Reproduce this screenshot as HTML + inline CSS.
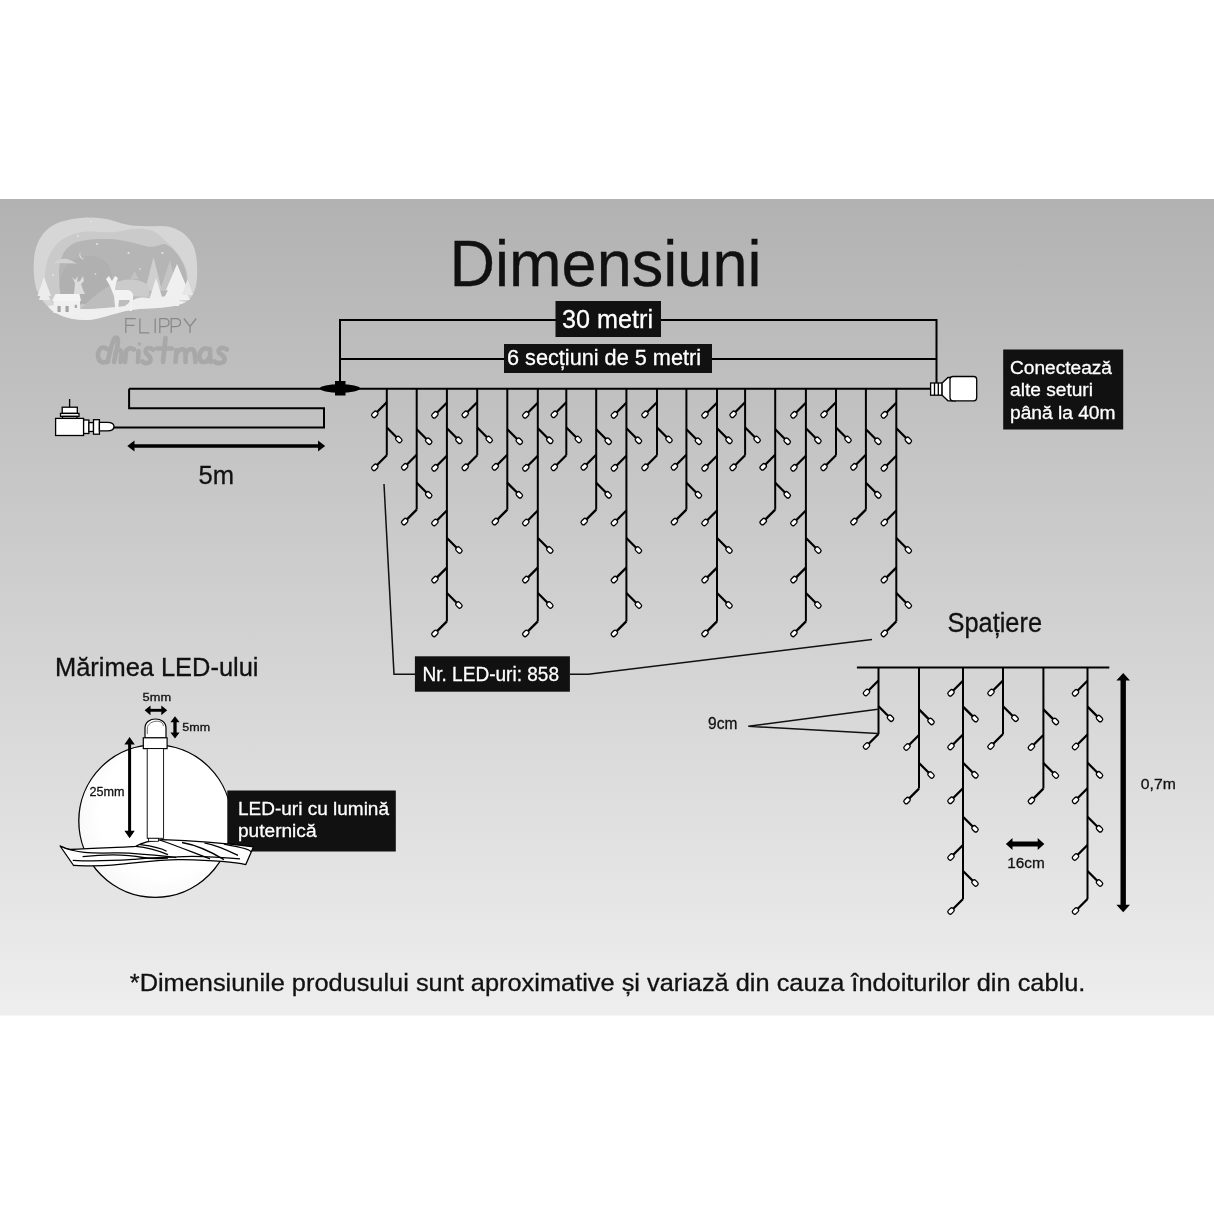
<!DOCTYPE html><html><head><meta charset="utf-8"><style>
html,body{margin:0;padding:0;background:#fff;width:1214px;height:1214px;overflow:hidden}
svg{display:block;font-family:"Liberation Sans", sans-serif;will-change:transform}
.st{stroke:#000;stroke-width:2;fill:none}
.br{stroke:#000;stroke-width:2.3;fill:none}
.led{fill:#fff;stroke:#000;stroke-width:1.3}
.ln{stroke:#000;stroke-width:2;fill:none}
.thin{stroke:#111;stroke-width:1.5;fill:none}
</style></head><body>
<svg width="1214" height="1214" viewBox="0 0 1214 1214">
<defs><linearGradient id="bg" x1="0" y1="0" x2="0" y2="1"><stop offset="0" stop-color="#b2b2b2"/><stop offset="1" stop-color="#eeeeee"/></linearGradient><radialGradient id="circ" cx="0.55" cy="0.45" r="0.6"><stop offset="0.7" stop-color="#ffffff"/><stop offset="1" stop-color="#f6f6f6"/></radialGradient></defs>
<rect x="0" y="0" width="1214" height="1214" fill="#fff"/>
<rect x="0" y="199" width="1214" height="816.5" fill="url(#bg)"/>
<g id="logo">
<path d="M33.7,268 C33,245 42,232 52,226 C62,220 78,217.5 92,217.6 C105,217.8 114,221 122,223.5 C132,226.5 145,226.5 161,226 C175,226 186,233 192,243 C197,252 197.5,265 197,277 C196.5,290 192,299 184,303 C176,307 160,308 140,309 C125,310 115,314 100,318 C90,321 75,321 62,316 C50,311 40,300 36,288 C34.5,282 33.8,275 33.7,268 Z" fill="#d6d6d6"/>
<path d="M45,277 C45,262 50,250 60,241 C70,234 80,231.5 90,231.5 C100,231.5 112,233.5 122,231 C132,228.5 140,228 150,230 C158,232 162,238 168,243 C176,250 182,258 186,268 C189,278 189,290 184,297 L60,312 C50,302 45,290 45,277 Z" fill="#cacaca"/>
<path d="M59,272 C59,258 65,246 77,242 C88,238.5 100,239 110,239 C122,239.5 135,243 147,246.5 C155,248 160,244 165,244 C173,247 180,256 184,266 C188,276 188,288 184,296 L62,306 C60,295 59,283 59,272 Z" fill="#b5b5b5"/>
<path d="M60,290 C58,270 70,256 90,256 C105,256 112,266 112,280 C112,295 100,304 85,304 C72,304 62,300 60,290 Z" fill="#b0b0b0"/>
<path d="M54,263 C58,258 66,258 70,260 L77,263.5 Z" fill="#d2d2d2"/>
<path d="M80.5,252 C78,255 80,260 85,259 C81,259 79.5,255.5 80.5,252 Z" fill="#e6e6e6"/>
<g fill="#e8e8e8"><circle cx="78" cy="236" r="0.9"/><circle cx="97" cy="244" r="0.9"/><circle cx="128.5" cy="253" r="1"/><circle cx="162.5" cy="253" r="1"/><circle cx="53" cy="275" r="0.9"/><circle cx="95.5" cy="274" r="0.8"/><circle cx="140" cy="269" r="0.8"/><circle cx="91" cy="221.5" r="0.8"/></g>
<path d="M145,291 L153.5,257 L162,291 Z" fill="#cfcfcf"/>
<path d="M160,291 L170,260 L177,291 Z" fill="#c4c4c4"/>
<path d="M130.5,279 L134.5,271 L138.5,279 Z" fill="#c2c2c2"/>
<path d="M80,309 C90,300 100,290 110,286 L130,282 C140,281 148,284 150,292 L150,305 L80,312 Z" fill="#bdbdbd"/>
<path d="M114,283 C125,278 140,278 149,286 L149,297 L116,295 Z" fill="#cbcbcb"/>
<path d="M166,290 L177,264 L188,290 Z M163,300 L177,272 L190,300 Z M175,300 h4 v6 h-4 Z" fill="#f0f0f0"/>
<path d="M148,303 L156,278 L164,303 Z" fill="#eeeeee"/>
<path d="M182,295 L187.5,279 L193,295 Z" fill="#e6e6e6"/>
<path d="M37.5,296 L44,277 L51,296 Z M39,300 L44,285 L50,300 Z" fill="#ececec"/>
<path d="M48,306 C60,304 75,310 90,309 C105,308 115,307 125,306 C135,296 145,296 155,300 C160,296 170,294 178,300 C182,302 186,302 186,302 C176,307 160,308 140,309 C125,310 115,314 100,318 C90,321 75,321 62,316 C55,313 50,310 48,306 Z" fill="#efefef"/>
<path d="M52,301 L55.5,294 L79.5,294 L81,301 Z" fill="#f4f4f4"/>
<rect x="53.5" y="301" width="26.5" height="12" fill="#f0f0f0"/>
<rect x="57.5" y="306" width="3.2" height="6" fill="#a4a4a4"/><rect x="65.5" y="306" width="3.2" height="6" fill="#a4a4a4"/>
<path d="M75,308 C73,304 78,303 77,308 Z" fill="#aaaaaa"/>
<path d="M74,294 L75,283 L72,277 L75,280 L78,276 L77,282 L80,281 L83,276 L84,281 L81,284 L83,290 L85,294 Z" fill="#dcdcdc"/>
<path d="M106,279 L109,276 L112,281 L115,276 L118,278 L116,283 L115,290 L128,290 C132,291 134,294 133,298 L132,311 L129.5,311 L129.5,300 L119,300 L118,311 L115.5,311 L114,296 L110,286 Z" fill="#f2f2f2"/>
</g>
<g stroke="#888888" stroke-width="1.25" fill="none">
<path d="M125.8,332.9 V318.5 H135.7 M125.8,325.3 H134.5"/>
<path d="M139.9,318.5 V332.9 H149.3"/>
<path d="M155.2,318.5 V332.9"/>
<path d="M159.8,332.9 V318.5 H164.5 C170.5,318.5 170.5,326.5 164.5,326.5 H159.8"/>
<path d="M171.2,332.9 V318.5 H176 C182,318.5 182,326.5 176,326.5 H171.2"/>
<path d="M183.9,318.5 L190,326.5 L196.2,318.5 M190,326.5 V332.9"/>
</g>
<g stroke="#a8a8a8" stroke-width="4.6" fill="none" stroke-linecap="round" stroke-linejoin="round">
<path d="M107,349 C101,344 96.5,352 98.5,358 C100,363 104,363.5 108,361"/>
<path d="M107.5,362 C110,352 112,341 115,338 C117.5,336 119,340 117,348 L114,362 M115,354 C117,348.5 121.5,348.5 121.5,353.5 L120.5,362"/>
<path d="M125,362 L126,351 C128,348 131,347.5 134,349.5"/>
<path d="M138.5,351 L138,362"/>
<circle cx="139.5" cy="344" r="1.8" fill="#a9a9a9" stroke="none"/>
<path d="M153,349.5 C148,346 143,350 147,354 C151,357 152.5,362 147,363 C145,363.5 143.5,362.5 142.5,361.5"/>
<path d="M165.5,338 L163,362 M157,348.5 H172"/>
<path d="M175.5,362 L176.5,350 M176.5,354 C178.5,348.5 184.5,347.5 185.5,352.5 L185.5,362 M185.5,354 C187.5,348.5 193.5,347.5 194.5,352.5 L195.5,362"/>
<path d="M210,350.5 C204,345 198.5,352 199.5,358 C200.5,363.5 207.5,363.5 209.5,357 M210,349 L210.5,362"/>
<path d="M227,349.5 C221,345.5 215.5,350 220.5,354 C225.5,357 227,362 220,363 C217,363.5 215.5,362.5 214.5,361.5"/>
</g>
<text x="449.5" y="285.7" font-size="65.3" fill="#111" stroke="#111" stroke-width="0.3" textLength="312" lengthAdjust="spacingAndGlyphs" >Dimensiuni</text>
<path class="ln" d="M340,389 V320 H936.5 V383"/>
<line class="ln" x1="340" y1="359" x2="936.5" y2="359"/>
<rect x="555.5" y="301" width="105.5" height="36" fill="#111"/>
<text x="562" y="328.2" font-size="26.3" fill="#fff" stroke="#fff" stroke-width="0.3" textLength="91" lengthAdjust="spacingAndGlyphs" >30 metri</text>
<rect x="504" y="344" width="208" height="29" fill="#111"/>
<text x="507" y="365.2" font-size="22" fill="#fff" stroke="#fff" stroke-width="0.3" textLength="194" lengthAdjust="spacingAndGlyphs" >6 secțiuni de 5 metri</text>
<line class="st" x1="129.1" y1="388.8" x2="931" y2="388.8"/>
<path class="st" d="M129.1,388.8 V408.3 H324 V427.6 H113"/>
<ellipse cx="339.9" cy="388.5" rx="20.2" ry="4.2" fill="#000"/>
<rect x="335" y="381" width="10.5" height="14.5" fill="#000"/>
<g stroke="#000" stroke-width="1.3" fill="#fff">
<line x1="69.6" y1="399" x2="69.6" y2="407.2"/>
<rect x="62.2" y="407.2" width="15.1" height="6.2"/>
<rect x="60.5" y="413.4" width="18.5" height="3"/>
<rect x="62.5" y="416.4" width="14.5" height="2"/>
<rect x="55.6" y="418.4" width="28" height="17.1"/>
<rect x="83.6" y="420" width="5.3" height="13.5"/>
<rect x="88.9" y="422.6" width="4.6" height="8.9"/>
<rect x="93.5" y="419.7" width="5.9" height="14.5"/>
<path d="M99.4,422.3 H107.5 C112,422.3 114,424.5 114,426.6 C114,428.7 112,430.9 107.5,430.9 H99.4 Z"/>
</g>
<g stroke="#000" stroke-width="1.3" fill="#fff">
<rect x="930.6" y="383" width="11.5" height="12.2"/>
<path d="M934.5,383 V395.2 M938.3,383 V395.2" fill="none"/>
<path d="M942.1,383 L948,377.5 H955.4 V400.8 H948 L942.1,395.2 Z"/>
<rect x="950" y="376.5" width="26.7" height="24.3" rx="3"/>
</g>
<line x1="386.80" y1="388.70" x2="386.80" y2="455.30" class="st"/>
<line x1="386.80" y1="402.30" x2="376.80" y2="412.30" class="br"/>
<rect x="-3.3" y="-2.3" width="6.6" height="4.6" rx="1.9" class="led" transform="translate(374.80,414.30) rotate(135)"/>
<line x1="386.80" y1="427.50" x2="396.80" y2="437.50" class="br"/>
<rect x="-3.3" y="-2.3" width="6.6" height="4.6" rx="1.9" class="led" transform="translate(398.80,439.50) rotate(45)"/>
<line x1="386.80" y1="455.30" x2="376.80" y2="465.30" class="br"/>
<rect x="-3.3" y="-2.3" width="6.6" height="4.6" rx="1.9" class="led" transform="translate(374.80,467.30) rotate(135)"/>
<line x1="416.70" y1="388.70" x2="416.70" y2="509.60" class="st"/>
<line x1="416.70" y1="429.20" x2="426.70" y2="439.20" class="br"/>
<rect x="-3.3" y="-2.3" width="6.6" height="4.6" rx="1.9" class="led" transform="translate(428.70,441.20) rotate(45)"/>
<line x1="416.70" y1="454.80" x2="406.70" y2="464.80" class="br"/>
<rect x="-3.3" y="-2.3" width="6.6" height="4.6" rx="1.9" class="led" transform="translate(404.70,466.80) rotate(135)"/>
<line x1="416.70" y1="482.80" x2="426.70" y2="492.80" class="br"/>
<rect x="-3.3" y="-2.3" width="6.6" height="4.6" rx="1.9" class="led" transform="translate(428.70,494.80) rotate(45)"/>
<line x1="416.70" y1="509.60" x2="406.70" y2="519.60" class="br"/>
<rect x="-3.3" y="-2.3" width="6.6" height="4.6" rx="1.9" class="led" transform="translate(404.70,521.60) rotate(135)"/>
<line x1="446.90" y1="388.70" x2="446.90" y2="621.40" class="st"/>
<line x1="446.90" y1="402.80" x2="436.90" y2="412.80" class="br"/>
<rect x="-3.3" y="-2.3" width="6.6" height="4.6" rx="1.9" class="led" transform="translate(434.90,414.80) rotate(135)"/>
<line x1="446.90" y1="428.30" x2="456.90" y2="438.30" class="br"/>
<rect x="-3.3" y="-2.3" width="6.6" height="4.6" rx="1.9" class="led" transform="translate(458.90,440.30) rotate(45)"/>
<line x1="446.90" y1="455.80" x2="436.90" y2="465.80" class="br"/>
<rect x="-3.3" y="-2.3" width="6.6" height="4.6" rx="1.9" class="led" transform="translate(434.90,467.80) rotate(135)"/>
<line x1="446.90" y1="510.50" x2="436.90" y2="520.50" class="br"/>
<rect x="-3.3" y="-2.3" width="6.6" height="4.6" rx="1.9" class="led" transform="translate(434.90,522.50) rotate(135)"/>
<line x1="446.90" y1="538.00" x2="456.90" y2="548.00" class="br"/>
<rect x="-3.3" y="-2.3" width="6.6" height="4.6" rx="1.9" class="led" transform="translate(458.90,550.00) rotate(45)"/>
<line x1="446.90" y1="567.60" x2="436.90" y2="577.60" class="br"/>
<rect x="-3.3" y="-2.3" width="6.6" height="4.6" rx="1.9" class="led" transform="translate(434.90,579.60) rotate(135)"/>
<line x1="446.90" y1="593.00" x2="456.90" y2="603.00" class="br"/>
<rect x="-3.3" y="-2.3" width="6.6" height="4.6" rx="1.9" class="led" transform="translate(458.90,605.00) rotate(45)"/>
<line x1="446.90" y1="621.40" x2="436.90" y2="631.40" class="br"/>
<rect x="-3.3" y="-2.3" width="6.6" height="4.6" rx="1.9" class="led" transform="translate(434.90,633.40) rotate(135)"/>
<line x1="477.20" y1="388.70" x2="477.20" y2="455.30" class="st"/>
<line x1="477.20" y1="402.30" x2="467.20" y2="412.30" class="br"/>
<rect x="-3.3" y="-2.3" width="6.6" height="4.6" rx="1.9" class="led" transform="translate(465.20,414.30) rotate(135)"/>
<line x1="477.20" y1="427.50" x2="487.20" y2="437.50" class="br"/>
<rect x="-3.3" y="-2.3" width="6.6" height="4.6" rx="1.9" class="led" transform="translate(489.20,439.50) rotate(45)"/>
<line x1="477.20" y1="455.30" x2="467.20" y2="465.30" class="br"/>
<rect x="-3.3" y="-2.3" width="6.6" height="4.6" rx="1.9" class="led" transform="translate(465.20,467.30) rotate(135)"/>
<line x1="507.30" y1="388.70" x2="507.30" y2="509.60" class="st"/>
<line x1="507.30" y1="429.20" x2="517.30" y2="439.20" class="br"/>
<rect x="-3.3" y="-2.3" width="6.6" height="4.6" rx="1.9" class="led" transform="translate(519.30,441.20) rotate(45)"/>
<line x1="507.30" y1="454.80" x2="497.30" y2="464.80" class="br"/>
<rect x="-3.3" y="-2.3" width="6.6" height="4.6" rx="1.9" class="led" transform="translate(495.30,466.80) rotate(135)"/>
<line x1="507.30" y1="482.80" x2="517.30" y2="492.80" class="br"/>
<rect x="-3.3" y="-2.3" width="6.6" height="4.6" rx="1.9" class="led" transform="translate(519.30,494.80) rotate(45)"/>
<line x1="507.30" y1="509.60" x2="497.30" y2="519.60" class="br"/>
<rect x="-3.3" y="-2.3" width="6.6" height="4.6" rx="1.9" class="led" transform="translate(495.30,521.60) rotate(135)"/>
<line x1="537.80" y1="388.70" x2="537.80" y2="621.40" class="st"/>
<line x1="537.80" y1="402.80" x2="527.80" y2="412.80" class="br"/>
<rect x="-3.3" y="-2.3" width="6.6" height="4.6" rx="1.9" class="led" transform="translate(525.80,414.80) rotate(135)"/>
<line x1="537.80" y1="428.30" x2="547.80" y2="438.30" class="br"/>
<rect x="-3.3" y="-2.3" width="6.6" height="4.6" rx="1.9" class="led" transform="translate(549.80,440.30) rotate(45)"/>
<line x1="537.80" y1="455.80" x2="527.80" y2="465.80" class="br"/>
<rect x="-3.3" y="-2.3" width="6.6" height="4.6" rx="1.9" class="led" transform="translate(525.80,467.80) rotate(135)"/>
<line x1="537.80" y1="510.50" x2="527.80" y2="520.50" class="br"/>
<rect x="-3.3" y="-2.3" width="6.6" height="4.6" rx="1.9" class="led" transform="translate(525.80,522.50) rotate(135)"/>
<line x1="537.80" y1="538.00" x2="547.80" y2="548.00" class="br"/>
<rect x="-3.3" y="-2.3" width="6.6" height="4.6" rx="1.9" class="led" transform="translate(549.80,550.00) rotate(45)"/>
<line x1="537.80" y1="567.60" x2="527.80" y2="577.60" class="br"/>
<rect x="-3.3" y="-2.3" width="6.6" height="4.6" rx="1.9" class="led" transform="translate(525.80,579.60) rotate(135)"/>
<line x1="537.80" y1="593.00" x2="547.80" y2="603.00" class="br"/>
<rect x="-3.3" y="-2.3" width="6.6" height="4.6" rx="1.9" class="led" transform="translate(549.80,605.00) rotate(45)"/>
<line x1="537.80" y1="621.40" x2="527.80" y2="631.40" class="br"/>
<rect x="-3.3" y="-2.3" width="6.6" height="4.6" rx="1.9" class="led" transform="translate(525.80,633.40) rotate(135)"/>
<line x1="566.30" y1="388.70" x2="566.30" y2="455.30" class="st"/>
<line x1="566.30" y1="402.30" x2="556.30" y2="412.30" class="br"/>
<rect x="-3.3" y="-2.3" width="6.6" height="4.6" rx="1.9" class="led" transform="translate(554.30,414.30) rotate(135)"/>
<line x1="566.30" y1="427.50" x2="576.30" y2="437.50" class="br"/>
<rect x="-3.3" y="-2.3" width="6.6" height="4.6" rx="1.9" class="led" transform="translate(578.30,439.50) rotate(45)"/>
<line x1="566.30" y1="455.30" x2="556.30" y2="465.30" class="br"/>
<rect x="-3.3" y="-2.3" width="6.6" height="4.6" rx="1.9" class="led" transform="translate(554.30,467.30) rotate(135)"/>
<line x1="596.20" y1="388.70" x2="596.20" y2="509.60" class="st"/>
<line x1="596.20" y1="429.20" x2="606.20" y2="439.20" class="br"/>
<rect x="-3.3" y="-2.3" width="6.6" height="4.6" rx="1.9" class="led" transform="translate(608.20,441.20) rotate(45)"/>
<line x1="596.20" y1="454.80" x2="586.20" y2="464.80" class="br"/>
<rect x="-3.3" y="-2.3" width="6.6" height="4.6" rx="1.9" class="led" transform="translate(584.20,466.80) rotate(135)"/>
<line x1="596.20" y1="482.80" x2="606.20" y2="492.80" class="br"/>
<rect x="-3.3" y="-2.3" width="6.6" height="4.6" rx="1.9" class="led" transform="translate(608.20,494.80) rotate(45)"/>
<line x1="596.20" y1="509.60" x2="586.20" y2="519.60" class="br"/>
<rect x="-3.3" y="-2.3" width="6.6" height="4.6" rx="1.9" class="led" transform="translate(584.20,521.60) rotate(135)"/>
<line x1="626.40" y1="388.70" x2="626.40" y2="621.40" class="st"/>
<line x1="626.40" y1="402.80" x2="616.40" y2="412.80" class="br"/>
<rect x="-3.3" y="-2.3" width="6.6" height="4.6" rx="1.9" class="led" transform="translate(614.40,414.80) rotate(135)"/>
<line x1="626.40" y1="428.30" x2="636.40" y2="438.30" class="br"/>
<rect x="-3.3" y="-2.3" width="6.6" height="4.6" rx="1.9" class="led" transform="translate(638.40,440.30) rotate(45)"/>
<line x1="626.40" y1="455.80" x2="616.40" y2="465.80" class="br"/>
<rect x="-3.3" y="-2.3" width="6.6" height="4.6" rx="1.9" class="led" transform="translate(614.40,467.80) rotate(135)"/>
<line x1="626.40" y1="510.50" x2="616.40" y2="520.50" class="br"/>
<rect x="-3.3" y="-2.3" width="6.6" height="4.6" rx="1.9" class="led" transform="translate(614.40,522.50) rotate(135)"/>
<line x1="626.40" y1="538.00" x2="636.40" y2="548.00" class="br"/>
<rect x="-3.3" y="-2.3" width="6.6" height="4.6" rx="1.9" class="led" transform="translate(638.40,550.00) rotate(45)"/>
<line x1="626.40" y1="567.60" x2="616.40" y2="577.60" class="br"/>
<rect x="-3.3" y="-2.3" width="6.6" height="4.6" rx="1.9" class="led" transform="translate(614.40,579.60) rotate(135)"/>
<line x1="626.40" y1="593.00" x2="636.40" y2="603.00" class="br"/>
<rect x="-3.3" y="-2.3" width="6.6" height="4.6" rx="1.9" class="led" transform="translate(638.40,605.00) rotate(45)"/>
<line x1="626.40" y1="621.40" x2="616.40" y2="631.40" class="br"/>
<rect x="-3.3" y="-2.3" width="6.6" height="4.6" rx="1.9" class="led" transform="translate(614.40,633.40) rotate(135)"/>
<line x1="657.00" y1="388.70" x2="657.00" y2="455.30" class="st"/>
<line x1="657.00" y1="402.30" x2="647.00" y2="412.30" class="br"/>
<rect x="-3.3" y="-2.3" width="6.6" height="4.6" rx="1.9" class="led" transform="translate(645.00,414.30) rotate(135)"/>
<line x1="657.00" y1="427.50" x2="667.00" y2="437.50" class="br"/>
<rect x="-3.3" y="-2.3" width="6.6" height="4.6" rx="1.9" class="led" transform="translate(669.00,439.50) rotate(45)"/>
<line x1="657.00" y1="455.30" x2="647.00" y2="465.30" class="br"/>
<rect x="-3.3" y="-2.3" width="6.6" height="4.6" rx="1.9" class="led" transform="translate(645.00,467.30) rotate(135)"/>
<line x1="686.40" y1="388.70" x2="686.40" y2="509.60" class="st"/>
<line x1="686.40" y1="429.20" x2="696.40" y2="439.20" class="br"/>
<rect x="-3.3" y="-2.3" width="6.6" height="4.6" rx="1.9" class="led" transform="translate(698.40,441.20) rotate(45)"/>
<line x1="686.40" y1="454.80" x2="676.40" y2="464.80" class="br"/>
<rect x="-3.3" y="-2.3" width="6.6" height="4.6" rx="1.9" class="led" transform="translate(674.40,466.80) rotate(135)"/>
<line x1="686.40" y1="482.80" x2="696.40" y2="492.80" class="br"/>
<rect x="-3.3" y="-2.3" width="6.6" height="4.6" rx="1.9" class="led" transform="translate(698.40,494.80) rotate(45)"/>
<line x1="686.40" y1="509.60" x2="676.40" y2="519.60" class="br"/>
<rect x="-3.3" y="-2.3" width="6.6" height="4.6" rx="1.9" class="led" transform="translate(674.40,521.60) rotate(135)"/>
<line x1="717.00" y1="388.70" x2="717.00" y2="621.40" class="st"/>
<line x1="717.00" y1="402.80" x2="707.00" y2="412.80" class="br"/>
<rect x="-3.3" y="-2.3" width="6.6" height="4.6" rx="1.9" class="led" transform="translate(705.00,414.80) rotate(135)"/>
<line x1="717.00" y1="428.30" x2="727.00" y2="438.30" class="br"/>
<rect x="-3.3" y="-2.3" width="6.6" height="4.6" rx="1.9" class="led" transform="translate(729.00,440.30) rotate(45)"/>
<line x1="717.00" y1="455.80" x2="707.00" y2="465.80" class="br"/>
<rect x="-3.3" y="-2.3" width="6.6" height="4.6" rx="1.9" class="led" transform="translate(705.00,467.80) rotate(135)"/>
<line x1="717.00" y1="510.50" x2="707.00" y2="520.50" class="br"/>
<rect x="-3.3" y="-2.3" width="6.6" height="4.6" rx="1.9" class="led" transform="translate(705.00,522.50) rotate(135)"/>
<line x1="717.00" y1="538.00" x2="727.00" y2="548.00" class="br"/>
<rect x="-3.3" y="-2.3" width="6.6" height="4.6" rx="1.9" class="led" transform="translate(729.00,550.00) rotate(45)"/>
<line x1="717.00" y1="567.60" x2="707.00" y2="577.60" class="br"/>
<rect x="-3.3" y="-2.3" width="6.6" height="4.6" rx="1.9" class="led" transform="translate(705.00,579.60) rotate(135)"/>
<line x1="717.00" y1="593.00" x2="727.00" y2="603.00" class="br"/>
<rect x="-3.3" y="-2.3" width="6.6" height="4.6" rx="1.9" class="led" transform="translate(729.00,605.00) rotate(45)"/>
<line x1="717.00" y1="621.40" x2="707.00" y2="631.40" class="br"/>
<rect x="-3.3" y="-2.3" width="6.6" height="4.6" rx="1.9" class="led" transform="translate(705.00,633.40) rotate(135)"/>
<line x1="745.10" y1="388.70" x2="745.10" y2="455.30" class="st"/>
<line x1="745.10" y1="402.30" x2="735.10" y2="412.30" class="br"/>
<rect x="-3.3" y="-2.3" width="6.6" height="4.6" rx="1.9" class="led" transform="translate(733.10,414.30) rotate(135)"/>
<line x1="745.10" y1="427.50" x2="755.10" y2="437.50" class="br"/>
<rect x="-3.3" y="-2.3" width="6.6" height="4.6" rx="1.9" class="led" transform="translate(757.10,439.50) rotate(45)"/>
<line x1="745.10" y1="455.30" x2="735.10" y2="465.30" class="br"/>
<rect x="-3.3" y="-2.3" width="6.6" height="4.6" rx="1.9" class="led" transform="translate(733.10,467.30) rotate(135)"/>
<line x1="775.20" y1="388.70" x2="775.20" y2="509.60" class="st"/>
<line x1="775.20" y1="429.20" x2="785.20" y2="439.20" class="br"/>
<rect x="-3.3" y="-2.3" width="6.6" height="4.6" rx="1.9" class="led" transform="translate(787.20,441.20) rotate(45)"/>
<line x1="775.20" y1="454.80" x2="765.20" y2="464.80" class="br"/>
<rect x="-3.3" y="-2.3" width="6.6" height="4.6" rx="1.9" class="led" transform="translate(763.20,466.80) rotate(135)"/>
<line x1="775.20" y1="482.80" x2="785.20" y2="492.80" class="br"/>
<rect x="-3.3" y="-2.3" width="6.6" height="4.6" rx="1.9" class="led" transform="translate(787.20,494.80) rotate(45)"/>
<line x1="775.20" y1="509.60" x2="765.20" y2="519.60" class="br"/>
<rect x="-3.3" y="-2.3" width="6.6" height="4.6" rx="1.9" class="led" transform="translate(763.20,521.60) rotate(135)"/>
<line x1="805.90" y1="388.70" x2="805.90" y2="621.40" class="st"/>
<line x1="805.90" y1="402.80" x2="795.90" y2="412.80" class="br"/>
<rect x="-3.3" y="-2.3" width="6.6" height="4.6" rx="1.9" class="led" transform="translate(793.90,414.80) rotate(135)"/>
<line x1="805.90" y1="428.30" x2="815.90" y2="438.30" class="br"/>
<rect x="-3.3" y="-2.3" width="6.6" height="4.6" rx="1.9" class="led" transform="translate(817.90,440.30) rotate(45)"/>
<line x1="805.90" y1="455.80" x2="795.90" y2="465.80" class="br"/>
<rect x="-3.3" y="-2.3" width="6.6" height="4.6" rx="1.9" class="led" transform="translate(793.90,467.80) rotate(135)"/>
<line x1="805.90" y1="510.50" x2="795.90" y2="520.50" class="br"/>
<rect x="-3.3" y="-2.3" width="6.6" height="4.6" rx="1.9" class="led" transform="translate(793.90,522.50) rotate(135)"/>
<line x1="805.90" y1="538.00" x2="815.90" y2="548.00" class="br"/>
<rect x="-3.3" y="-2.3" width="6.6" height="4.6" rx="1.9" class="led" transform="translate(817.90,550.00) rotate(45)"/>
<line x1="805.90" y1="567.60" x2="795.90" y2="577.60" class="br"/>
<rect x="-3.3" y="-2.3" width="6.6" height="4.6" rx="1.9" class="led" transform="translate(793.90,579.60) rotate(135)"/>
<line x1="805.90" y1="593.00" x2="815.90" y2="603.00" class="br"/>
<rect x="-3.3" y="-2.3" width="6.6" height="4.6" rx="1.9" class="led" transform="translate(817.90,605.00) rotate(45)"/>
<line x1="805.90" y1="621.40" x2="795.90" y2="631.40" class="br"/>
<rect x="-3.3" y="-2.3" width="6.6" height="4.6" rx="1.9" class="led" transform="translate(793.90,633.40) rotate(135)"/>
<line x1="836.00" y1="388.70" x2="836.00" y2="455.30" class="st"/>
<line x1="836.00" y1="402.30" x2="826.00" y2="412.30" class="br"/>
<rect x="-3.3" y="-2.3" width="6.6" height="4.6" rx="1.9" class="led" transform="translate(824.00,414.30) rotate(135)"/>
<line x1="836.00" y1="427.50" x2="846.00" y2="437.50" class="br"/>
<rect x="-3.3" y="-2.3" width="6.6" height="4.6" rx="1.9" class="led" transform="translate(848.00,439.50) rotate(45)"/>
<line x1="836.00" y1="455.30" x2="826.00" y2="465.30" class="br"/>
<rect x="-3.3" y="-2.3" width="6.6" height="4.6" rx="1.9" class="led" transform="translate(824.00,467.30) rotate(135)"/>
<line x1="865.90" y1="388.70" x2="865.90" y2="509.60" class="st"/>
<line x1="865.90" y1="429.20" x2="875.90" y2="439.20" class="br"/>
<rect x="-3.3" y="-2.3" width="6.6" height="4.6" rx="1.9" class="led" transform="translate(877.90,441.20) rotate(45)"/>
<line x1="865.90" y1="454.80" x2="855.90" y2="464.80" class="br"/>
<rect x="-3.3" y="-2.3" width="6.6" height="4.6" rx="1.9" class="led" transform="translate(853.90,466.80) rotate(135)"/>
<line x1="865.90" y1="482.80" x2="875.90" y2="492.80" class="br"/>
<rect x="-3.3" y="-2.3" width="6.6" height="4.6" rx="1.9" class="led" transform="translate(877.90,494.80) rotate(45)"/>
<line x1="865.90" y1="509.60" x2="855.90" y2="519.60" class="br"/>
<rect x="-3.3" y="-2.3" width="6.6" height="4.6" rx="1.9" class="led" transform="translate(853.90,521.60) rotate(135)"/>
<line x1="896.30" y1="388.70" x2="896.30" y2="621.40" class="st"/>
<line x1="896.30" y1="402.80" x2="886.30" y2="412.80" class="br"/>
<rect x="-3.3" y="-2.3" width="6.6" height="4.6" rx="1.9" class="led" transform="translate(884.30,414.80) rotate(135)"/>
<line x1="896.30" y1="428.30" x2="906.30" y2="438.30" class="br"/>
<rect x="-3.3" y="-2.3" width="6.6" height="4.6" rx="1.9" class="led" transform="translate(908.30,440.30) rotate(45)"/>
<line x1="896.30" y1="455.80" x2="886.30" y2="465.80" class="br"/>
<rect x="-3.3" y="-2.3" width="6.6" height="4.6" rx="1.9" class="led" transform="translate(884.30,467.80) rotate(135)"/>
<line x1="896.30" y1="510.50" x2="886.30" y2="520.50" class="br"/>
<rect x="-3.3" y="-2.3" width="6.6" height="4.6" rx="1.9" class="led" transform="translate(884.30,522.50) rotate(135)"/>
<line x1="896.30" y1="538.00" x2="906.30" y2="548.00" class="br"/>
<rect x="-3.3" y="-2.3" width="6.6" height="4.6" rx="1.9" class="led" transform="translate(908.30,550.00) rotate(45)"/>
<line x1="896.30" y1="567.60" x2="886.30" y2="577.60" class="br"/>
<rect x="-3.3" y="-2.3" width="6.6" height="4.6" rx="1.9" class="led" transform="translate(884.30,579.60) rotate(135)"/>
<line x1="896.30" y1="593.00" x2="906.30" y2="603.00" class="br"/>
<rect x="-3.3" y="-2.3" width="6.6" height="4.6" rx="1.9" class="led" transform="translate(908.30,605.00) rotate(45)"/>
<line x1="896.30" y1="621.40" x2="886.30" y2="631.40" class="br"/>
<rect x="-3.3" y="-2.3" width="6.6" height="4.6" rx="1.9" class="led" transform="translate(884.30,633.40) rotate(135)"/>
<rect x="1003.2" y="349.5" width="120" height="80" fill="#111"/>
<text x="1010" y="373.5" font-size="18.3" fill="#fff" stroke="#fff" stroke-width="0.3" textLength="102" lengthAdjust="spacingAndGlyphs" >Conectează</text>
<text x="1010" y="396.0" font-size="18.3" fill="#fff" stroke="#fff" stroke-width="0.3" textLength="83" lengthAdjust="spacingAndGlyphs" >alte seturi</text>
<text x="1010" y="418.8" font-size="18.3" fill="#fff" stroke="#fff" stroke-width="0.3" textLength="105.5" lengthAdjust="spacingAndGlyphs" >până la 40m</text>
<line x1="133" y1="446" x2="319.5" y2="446" stroke="#000" stroke-width="3.6"/>
<path d="M127.3,446 L134.5,440.5 V451.5 Z M325.2,446 L318,440.5 V451.5 Z" fill="#000"/>
<text x="198.5" y="484.2" font-size="24.9" fill="#111" stroke="#111" stroke-width="0.3" textLength="35.5" lengthAdjust="spacingAndGlyphs" >5m</text>
<path class="thin" d="M384,484 L394,674.3 H415"/>
<path class="thin" d="M570,674.3 H588.3 L872,639.4"/>
<rect x="414.9" y="656.3" width="155" height="35.4" fill="#111"/>
<text x="422.5" y="681.3" font-size="19.3" fill="#fff" stroke="#fff" stroke-width="0.3" textLength="136.5" lengthAdjust="spacingAndGlyphs" >Nr. LED-uri: 858</text>
<text x="55" y="676.2" font-size="25" fill="#111" stroke="#111" stroke-width="0.3" textLength="203.5" lengthAdjust="spacingAndGlyphs" >Mărimea LED-ului</text>
<circle cx="155.1" cy="821.1" r="76.3" fill="url(#circ)" stroke="#000" stroke-width="1.3"/>
<g stroke="#000" stroke-width="1.2" fill="#fff">
<path d="M145,738 V728 C145,716 166,716 166,728 V738 Z"/>
<path d="M147.3,734 V729 C147.3,719.8 163.3,718.5 163.3,726" fill="none" stroke-width="0.7" stroke="#333"/>
<rect x="143.3" y="737.8" width="23.8" height="10.8"/>
<rect x="147.2" y="748.6" width="16.4" height="89.7" stroke-width="0.9"/>
</g>
<line x1="129.6" y1="743" x2="129.6" y2="832" stroke="#000" stroke-width="3"/>
<path d="M129.6,736.9 L124.4,744.5 H134.8 Z M129.6,838.3 L124.4,830.7 H134.8 Z" fill="#000"/>
<line x1="148" y1="710.3" x2="164" y2="710.3" stroke="#000" stroke-width="2.9"/>
<path d="M144.6,710.3 L150.5,705.4 V715.2 Z M167.2,710.3 L161.3,705.4 V715.2 Z" fill="#000"/>
<line x1="175" y1="720" x2="175" y2="735" stroke="#000" stroke-width="3.3"/>
<path d="M175,716.2 L170.4,722.2 H179.6 Z M175,738.4 L170.4,732.4 H179.6 Z" fill="#000"/>
<text x="142.6" y="701.0" font-size="11.4" fill="#111" stroke="#111" stroke-width="0.3" textLength="28.5" lengthAdjust="spacingAndGlyphs" >5mm</text>
<text x="182.3" y="730.7" font-size="11.4" fill="#111" stroke="#111" stroke-width="0.3" textLength="27.8" lengthAdjust="spacingAndGlyphs" >5mm</text>
<text x="89.6" y="795.7" font-size="12.6" fill="#111" stroke="#111" stroke-width="0.3" textLength="35" lengthAdjust="spacingAndGlyphs" >25mm</text>
<rect x="227.3" y="790.5" width="168.5" height="61" fill="#111"/>
<text x="238" y="815.3" font-size="19.2" fill="#fff" stroke="#fff" stroke-width="0.3" textLength="151" lengthAdjust="spacingAndGlyphs" >LED-uri cu lumină</text>
<text x="238" y="837.3" font-size="19.2" fill="#fff" stroke="#fff" stroke-width="0.3" textLength="78.5" lengthAdjust="spacingAndGlyphs" >puternică</text>
<g stroke="#000" stroke-width="1.3" fill="#fff" stroke-linejoin="round">
<path d="M60.1,846 C64,848 68,849.2 70.0,849.5 C98.0,847.9 128.8,847.0 135.8,846.3 C142.8,842.1 154.0,840.3 162.4,839.7 C182.0,840.3 210.0,841.4 253.4,846.9 L245.8,864.6 C235,862 210.0,860.3 182.0,859.6 C161.0,858.9 137.2,863.1 112.0,865.2 C91.0,866.6 75.6,865.2 73.6,865.5 Z"/>
</g>
<g stroke="#000" stroke-width="1.3" fill="none">
<path d="M60.1,846 C78.4,854.0 91.0,853.3 119.0,852.9 C140.0,853.3 156.8,855.4 176.4,857.5"/>
<path d="M82.6,856.6 C105.0,854.3 128.8,854.7 142.8,857.5 C148.4,858.5 156.8,858.9 168.0,858.2"/>
<path d="M72.8,860.3 C95.2,861.7 119.0,860.3 133.0,859.4 C147.0,858.2 161.0,856.8 176.4,857.1"/>
<path d="M135.8,846.3 C145.6,847.0 156.8,849.8 168.0,854.7"/>
<path d="M140.0,844.5 C148.4,845.6 159.6,847.0 166.6,851.2"/>
<path d="M159.6,840.0 C176.4,845.6 193.2,852.6 210.0,858.9"/>
<path d="M182.0,842.5 C196.0,844.9 210.0,851.2 224.0,859.6"/>
<path d="M204.4,842.8 C215.6,844.9 226.8,849.8 238.0,855.4"/>
<path d="M176.4,856.8 C193.2,855.7 210.0,856.1 240.0,858.9"/>
<path d="M224.0,844.2 C232.4,846.3 250,848 251,852"/>
</g>
<rect x="148.5" y="838.3" width="10" height="3" fill="#fff" stroke="#000" stroke-width="0.8"/>
<text x="947.5" y="632.3" font-size="26.8" fill="#111" stroke="#111" stroke-width="0.3" textLength="94.5" lengthAdjust="spacingAndGlyphs" >Spațiere</text>
<line class="st" x1="856.9" y1="667.4" x2="1109.3" y2="667.4"/>
<line x1="878.50" y1="667.40" x2="878.50" y2="734.00" class="st"/>
<line x1="878.50" y1="680.50" x2="868.50" y2="690.50" class="br"/>
<rect x="-3.3" y="-2.3" width="6.6" height="4.6" rx="1.9" class="led" transform="translate(866.50,692.50) rotate(135)"/>
<line x1="878.50" y1="706.20" x2="888.50" y2="716.20" class="br"/>
<rect x="-3.3" y="-2.3" width="6.6" height="4.6" rx="1.9" class="led" transform="translate(890.50,718.20) rotate(45)"/>
<line x1="878.50" y1="734.00" x2="868.50" y2="744.00" class="br"/>
<rect x="-3.3" y="-2.3" width="6.6" height="4.6" rx="1.9" class="led" transform="translate(866.50,746.00) rotate(135)"/>
<line x1="919.00" y1="667.40" x2="919.00" y2="788.60" class="st"/>
<line x1="919.00" y1="709.40" x2="929.00" y2="719.40" class="br"/>
<rect x="-3.3" y="-2.3" width="6.6" height="4.6" rx="1.9" class="led" transform="translate(931.00,721.40) rotate(45)"/>
<line x1="919.00" y1="735.00" x2="909.00" y2="745.00" class="br"/>
<rect x="-3.3" y="-2.3" width="6.6" height="4.6" rx="1.9" class="led" transform="translate(907.00,747.00) rotate(135)"/>
<line x1="919.00" y1="763.00" x2="929.00" y2="773.00" class="br"/>
<rect x="-3.3" y="-2.3" width="6.6" height="4.6" rx="1.9" class="led" transform="translate(931.00,775.00) rotate(45)"/>
<line x1="919.00" y1="788.60" x2="909.00" y2="798.60" class="br"/>
<rect x="-3.3" y="-2.3" width="6.6" height="4.6" rx="1.9" class="led" transform="translate(907.00,800.60) rotate(135)"/>
<line x1="963.00" y1="667.40" x2="963.00" y2="899.00" class="st"/>
<line x1="963.00" y1="680.80" x2="953.00" y2="690.80" class="br"/>
<rect x="-3.3" y="-2.3" width="6.6" height="4.6" rx="1.9" class="led" transform="translate(951.00,692.80) rotate(135)"/>
<line x1="963.00" y1="706.60" x2="973.00" y2="716.60" class="br"/>
<rect x="-3.3" y="-2.3" width="6.6" height="4.6" rx="1.9" class="led" transform="translate(975.00,718.60) rotate(45)"/>
<line x1="963.00" y1="734.50" x2="953.00" y2="744.50" class="br"/>
<rect x="-3.3" y="-2.3" width="6.6" height="4.6" rx="1.9" class="led" transform="translate(951.00,746.50) rotate(135)"/>
<line x1="963.00" y1="762.80" x2="973.00" y2="772.80" class="br"/>
<rect x="-3.3" y="-2.3" width="6.6" height="4.6" rx="1.9" class="led" transform="translate(975.00,774.80) rotate(45)"/>
<line x1="963.00" y1="788.30" x2="953.00" y2="798.30" class="br"/>
<rect x="-3.3" y="-2.3" width="6.6" height="4.6" rx="1.9" class="led" transform="translate(951.00,800.30) rotate(135)"/>
<line x1="963.00" y1="816.80" x2="973.00" y2="826.80" class="br"/>
<rect x="-3.3" y="-2.3" width="6.6" height="4.6" rx="1.9" class="led" transform="translate(975.00,828.80) rotate(45)"/>
<line x1="963.00" y1="845.00" x2="953.00" y2="855.00" class="br"/>
<rect x="-3.3" y="-2.3" width="6.6" height="4.6" rx="1.9" class="led" transform="translate(951.00,857.00) rotate(135)"/>
<line x1="963.00" y1="871.00" x2="973.00" y2="881.00" class="br"/>
<rect x="-3.3" y="-2.3" width="6.6" height="4.6" rx="1.9" class="led" transform="translate(975.00,883.00) rotate(45)"/>
<line x1="963.00" y1="899.00" x2="953.00" y2="909.00" class="br"/>
<rect x="-3.3" y="-2.3" width="6.6" height="4.6" rx="1.9" class="led" transform="translate(951.00,911.00) rotate(135)"/>
<line x1="1003.00" y1="667.40" x2="1003.00" y2="734.00" class="st"/>
<line x1="1003.00" y1="680.50" x2="993.00" y2="690.50" class="br"/>
<rect x="-3.3" y="-2.3" width="6.6" height="4.6" rx="1.9" class="led" transform="translate(991.00,692.50) rotate(135)"/>
<line x1="1003.00" y1="706.20" x2="1013.00" y2="716.20" class="br"/>
<rect x="-3.3" y="-2.3" width="6.6" height="4.6" rx="1.9" class="led" transform="translate(1015.00,718.20) rotate(45)"/>
<line x1="1003.00" y1="734.00" x2="993.00" y2="744.00" class="br"/>
<rect x="-3.3" y="-2.3" width="6.6" height="4.6" rx="1.9" class="led" transform="translate(991.00,746.00) rotate(135)"/>
<line x1="1043.40" y1="667.40" x2="1043.40" y2="788.60" class="st"/>
<line x1="1043.40" y1="709.40" x2="1053.40" y2="719.40" class="br"/>
<rect x="-3.3" y="-2.3" width="6.6" height="4.6" rx="1.9" class="led" transform="translate(1055.40,721.40) rotate(45)"/>
<line x1="1043.40" y1="735.00" x2="1033.40" y2="745.00" class="br"/>
<rect x="-3.3" y="-2.3" width="6.6" height="4.6" rx="1.9" class="led" transform="translate(1031.40,747.00) rotate(135)"/>
<line x1="1043.40" y1="763.00" x2="1053.40" y2="773.00" class="br"/>
<rect x="-3.3" y="-2.3" width="6.6" height="4.6" rx="1.9" class="led" transform="translate(1055.40,775.00) rotate(45)"/>
<line x1="1043.40" y1="788.60" x2="1033.40" y2="798.60" class="br"/>
<rect x="-3.3" y="-2.3" width="6.6" height="4.6" rx="1.9" class="led" transform="translate(1031.40,800.60) rotate(135)"/>
<line x1="1087.50" y1="667.40" x2="1087.50" y2="899.00" class="st"/>
<line x1="1087.50" y1="680.80" x2="1077.50" y2="690.80" class="br"/>
<rect x="-3.3" y="-2.3" width="6.6" height="4.6" rx="1.9" class="led" transform="translate(1075.50,692.80) rotate(135)"/>
<line x1="1087.50" y1="706.60" x2="1097.50" y2="716.60" class="br"/>
<rect x="-3.3" y="-2.3" width="6.6" height="4.6" rx="1.9" class="led" transform="translate(1099.50,718.60) rotate(45)"/>
<line x1="1087.50" y1="734.50" x2="1077.50" y2="744.50" class="br"/>
<rect x="-3.3" y="-2.3" width="6.6" height="4.6" rx="1.9" class="led" transform="translate(1075.50,746.50) rotate(135)"/>
<line x1="1087.50" y1="762.80" x2="1097.50" y2="772.80" class="br"/>
<rect x="-3.3" y="-2.3" width="6.6" height="4.6" rx="1.9" class="led" transform="translate(1099.50,774.80) rotate(45)"/>
<line x1="1087.50" y1="788.30" x2="1077.50" y2="798.30" class="br"/>
<rect x="-3.3" y="-2.3" width="6.6" height="4.6" rx="1.9" class="led" transform="translate(1075.50,800.30) rotate(135)"/>
<line x1="1087.50" y1="816.80" x2="1097.50" y2="826.80" class="br"/>
<rect x="-3.3" y="-2.3" width="6.6" height="4.6" rx="1.9" class="led" transform="translate(1099.50,828.80) rotate(45)"/>
<line x1="1087.50" y1="845.00" x2="1077.50" y2="855.00" class="br"/>
<rect x="-3.3" y="-2.3" width="6.6" height="4.6" rx="1.9" class="led" transform="translate(1075.50,857.00) rotate(135)"/>
<line x1="1087.50" y1="871.00" x2="1097.50" y2="881.00" class="br"/>
<rect x="-3.3" y="-2.3" width="6.6" height="4.6" rx="1.9" class="led" transform="translate(1099.50,883.00) rotate(45)"/>
<line x1="1087.50" y1="899.00" x2="1077.50" y2="909.00" class="br"/>
<rect x="-3.3" y="-2.3" width="6.6" height="4.6" rx="1.9" class="led" transform="translate(1075.50,911.00) rotate(135)"/>
<path class="thin" d="M877.8,709.2 L748.3,726.3 L877.8,733.6"/>
<text x="708" y="729.4" font-size="15.8" fill="#111" stroke="#111" stroke-width="0.3" textLength="29.3" lengthAdjust="spacingAndGlyphs" >9cm</text>
<line x1="1123.2" y1="680" x2="1123.2" y2="905" stroke="#000" stroke-width="5.4"/>
<path d="M1123.2,673 L1116.4,680.5 H1130 Z M1123.2,912.3 L1116.4,904.8 H1130 Z" fill="#000"/>
<text x="1140.8" y="789.2" font-size="15" fill="#111" stroke="#111" stroke-width="0.3" textLength="35" lengthAdjust="spacingAndGlyphs" >0,7m</text>
<line x1="1011" y1="844" x2="1040" y2="844" stroke="#000" stroke-width="5"/>
<path d="M1005.9,844 L1012.5,838 V850 Z M1044.3,844 L1037.7,838 V850 Z" fill="#000"/>
<text x="1007.2" y="868.2" font-size="15.5" fill="#111" stroke="#111" stroke-width="0.3" textLength="37.5" lengthAdjust="spacingAndGlyphs" >16cm</text>
<text x="129.8" y="990.8" font-size="24.6" fill="#111" stroke="#111" stroke-width="0.3" textLength="955.5" lengthAdjust="spacingAndGlyphs" >*Dimensiunile produsului sunt aproximative și variază din cauza îndoiturilor din cablu.</text>
</svg></body></html>
